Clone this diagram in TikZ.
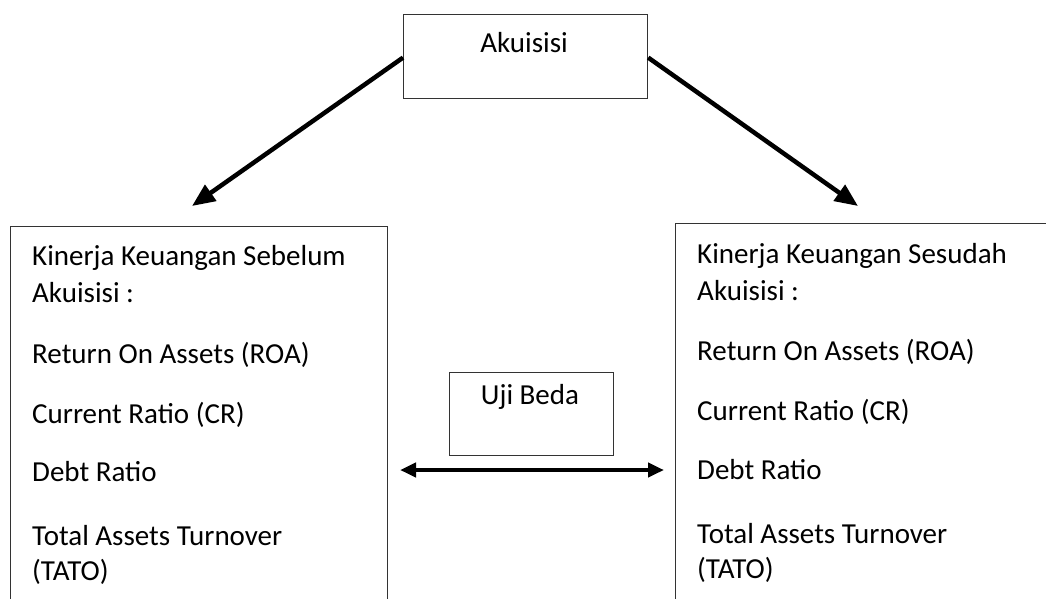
\documentclass[tikz,border=0pt]{standalone}
\usepackage{fontspec}
\setmainfont{Carlito}
\usetikzlibrary{arrows.meta}
\tikzset{
  frame/.style={draw=black!80, line width=1.2pt, rectangle, inner sep=0pt, anchor=north west},
  txt/.style={anchor=base west, inner sep=0pt, font=\fontsize{29}{34}\selectfont},
  ctxt/.style={anchor=base, inner sep=0pt, font=\fontsize{29}{34}\selectfont},
  bigarrow/.style={line width=4.5pt, -{Triangle[length=23pt,width=19pt]}},
  dblarrow/.style={line width=4pt, {Triangle[length=16pt,width=14pt]}-{Triangle[length=16pt,width=14pt]}}
}
\begin{document}
\begin{tikzpicture}[x=1pt,y=-1pt]
\useasboundingbox (0,0) rectangle (1046,598);
\clip (0,0) rectangle (1046,598);
% boxes
\node[frame, minimum width=244pt, minimum height=84pt] (top) at (403,14) {};
\node[frame, minimum width=377pt, minimum height=420pt] (left) at (10,226) {};
\node[frame, minimum width=400pt, minimum height=420pt] (right) at (675,223) {};
\node[frame, minimum width=164pt, minimum height=83pt] (uji) at (449,372) {};
% texts
\node[ctxt] (ttop) at (524,52) {Akuisisi};
\node[ctxt] (tuji) at (530,404) {Uji Beda};
\node[txt] (l1) at (32,265) {Kinerja Keuangan Sebelum};
\node[txt] (l2) at (32,302) {Akuisisi :};
\node[txt] (l3) at (32,363) {Return On Assets (ROA)};
\node[txt] (l4) at (32,423) {Current Ratio (CR)};
\node[txt] (l5) at (32,481) {Debt Ratio};
\node[txt] (l6) at (32,545) {Total Assets Turnover};
\node[txt] (l7) at (32,580) {(TATO)};
\node[txt] (r1) at (697,263) {Kinerja Keuangan Sesudah};
\node[txt] (r2) at (697,300) {Akuisisi :};
\node[txt] (r3) at (697,360) {Return On Assets (ROA)};
\node[txt] (r4) at (697,420) {Current Ratio (CR)};
\node[txt] (r5) at (697,479) {Debt Ratio};
\node[txt] (r6) at (697,543) {Total Assets Turnover};
\node[txt] (r7) at (697,578) {(TATO)};
% arrow ends
\coordinate (ltip) at (192,206);
\coordinate (rtip) at (858,206);
\coordinate (dl) at (400,470);
\coordinate (dr) at (664,470);
\draw[bigarrow] ([yshift=-1pt]top.west) -- (ltip);
\draw[bigarrow] ([yshift=-1pt]top.east) -- (rtip);
\draw[dblarrow] (dl) -- (dr);
\end{tikzpicture}
\end{document}
